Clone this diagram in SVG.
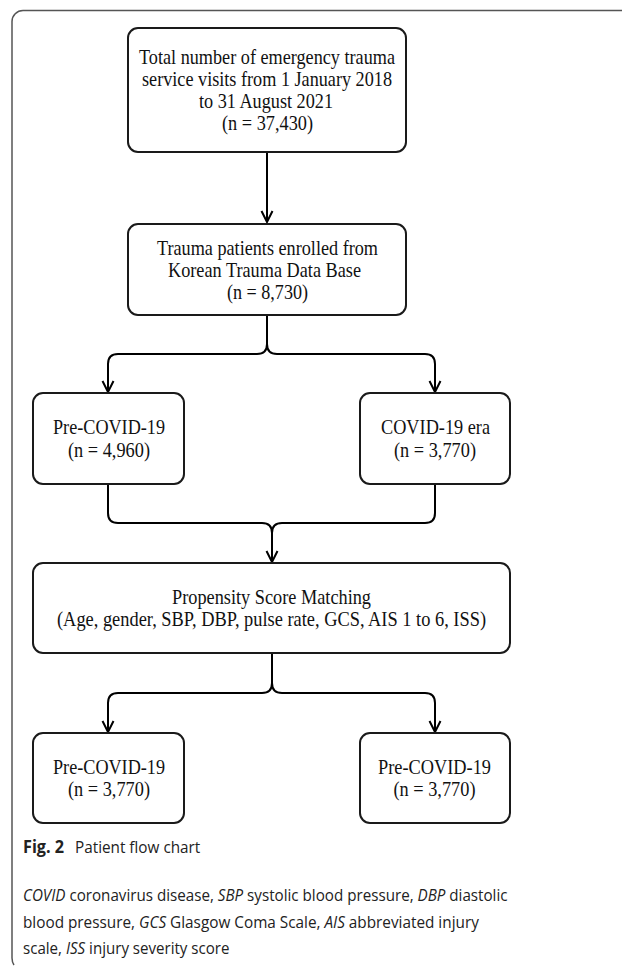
<svg xmlns="http://www.w3.org/2000/svg" width="622" height="966" viewBox="0 0 622 966">
<style>
.box{fill:#fff;stroke:#1a1a1a;stroke-width:2}
.t{font-family:"Liberation Serif",serif;font-size:21px;fill:#111;text-anchor:middle}
.c{fill:none;stroke:#000;stroke-width:2}
.cap{font-family:"Open Sans","Noto Sans",sans-serif;font-size:16.5px;fill:#222}
</style>
<defs>
<marker id="ah" viewBox="0 0 14 14" refX="12" refY="7" markerWidth="14" markerHeight="14" markerUnits="userSpaceOnUse" orient="auto">
<path d="M1,1.5 L12,7 L1,12.5" fill="none" stroke="#000" stroke-width="2"/>
</marker>
</defs>
<rect width="622" height="966" fill="#fff"/>
<path d="M622,10.5 H23 A11 11 0 0 0 12,21.5 V958 Q12,962 14,965" fill="none" stroke="#555" stroke-width="1.5"/>
<g id="connectors">
<path class="c" d="M267,152 V222" marker-end="url(#ah)"/>
<path class="c" d="M267,315 V344 Q267,354 257,354 H118 Q108,354 108,364 V392" marker-end="url(#ah)"/>
<path class="c" d="M267,344 Q267,354 277,354 H425 Q435,354 435,364 V392" marker-end="url(#ah)"/>
<path class="c" d="M108,484 V513 Q108,523 118,523 H262 Q272,523 272,533 V562" marker-end="url(#ah)"/>
<path class="c" d="M435,484 V513 Q435,523 425,523 H282 Q272,523 272,533"/>
<path class="c" d="M272,653 V683 Q272,693 262,693 H118 Q108,693 108,703 V732" marker-end="url(#ah)"/>
<path class="c" d="M272,683 Q272,693 282,693 H425 Q435,693 435,703 V732" marker-end="url(#ah)"/>
</g>
<g id="n1"><rect class="box" x="128" y="28" width="278" height="124" rx="10"/>
<text class="t" x="267" y="64" textLength="256" lengthAdjust="spacingAndGlyphs">Total number of emergency trauma</text>
<text class="t" x="267" y="86" textLength="250" lengthAdjust="spacingAndGlyphs">service visits from 1 January 2018</text>
<text class="t" x="266" y="108" textLength="134" lengthAdjust="spacingAndGlyphs">to 31 August 2021</text>
<text class="t" x="267.5" y="130" textLength="91" lengthAdjust="spacingAndGlyphs">(n = 37,430)</text></g>
<g id="n2"><rect class="box" x="128" y="224" width="278" height="91" rx="10"/>
<text class="t" x="267.5" y="255" textLength="221" lengthAdjust="spacingAndGlyphs">Trauma patients enrolled from</text>
<text class="t" x="264.5" y="277" textLength="193" lengthAdjust="spacingAndGlyphs">Korean Trauma Data Base</text>
<text class="t" x="267.5" y="299" textLength="81" lengthAdjust="spacingAndGlyphs">(n = 8,730)</text></g>
<g id="n3"><rect class="box" x="33" y="393" width="151" height="91" rx="10"/>
<text class="t" x="109" y="434" textLength="112" lengthAdjust="spacingAndGlyphs">Pre-COVID-19</text>
<text class="t" x="109" y="457" textLength="82" lengthAdjust="spacingAndGlyphs">(n = 4,960)</text></g>
<g id="n4"><rect class="box" x="360" y="393" width="150" height="91" rx="10"/>
<text class="t" x="435.5" y="434" textLength="109" lengthAdjust="spacingAndGlyphs">COVID-19 era</text>
<text class="t" x="435" y="457" textLength="82" lengthAdjust="spacingAndGlyphs">(n = 3,770)</text></g>
<g id="n5"><rect class="box" x="33" y="563" width="477" height="90" rx="10"/>
<text class="t" x="271.5" y="604" textLength="199" lengthAdjust="spacingAndGlyphs">Propensity Score Matching</text>
<text class="t" x="271.5" y="626" textLength="429" lengthAdjust="spacingAndGlyphs">(Age, gender, SBP, DBP, pulse rate, GCS, AIS 1 to 6, ISS)</text></g>
<g id="n6"><rect class="box" x="33" y="733" width="151" height="90" rx="10"/>
<text class="t" x="109" y="774" textLength="112" lengthAdjust="spacingAndGlyphs">Pre-COVID-19</text>
<text class="t" x="109" y="796" textLength="82" lengthAdjust="spacingAndGlyphs">(n = 3,770)</text></g>
<g id="n7"><rect class="box" x="360" y="733" width="150" height="90" rx="10"/>
<text class="t" x="434.5" y="774" textLength="113" lengthAdjust="spacingAndGlyphs">Pre-COVID-19</text>
<text class="t" x="434.5" y="796" textLength="82" lengthAdjust="spacingAndGlyphs">(n = 3,770)</text></g>
<g id="caption">
<text class="cap" transform="translate(23,853) scale(0.955,1)" font-weight="bold" fill="#111" style="font-size:17px">Fig. 2</text>
<text class="cap" transform="translate(75,853) scale(0.9,1)" style="font-size:17px">Patient flow chart</text>
<text class="cap" transform="translate(23,901) scale(0.92,1)"><tspan font-style="italic">COVID</tspan> coronavirus disease, <tspan font-style="italic">SBP</tspan> systolic blood pressure, <tspan font-style="italic">DBP</tspan> diastolic</text>
<text class="cap" transform="translate(23,928) scale(0.929,1)">blood pressure, <tspan font-style="italic">GCS</tspan> Glasgow Coma Scale, <tspan font-style="italic">AIS</tspan> abbreviated injury</text>
<text class="cap" transform="translate(23,954) scale(0.915,1)">scale, <tspan font-style="italic">ISS</tspan> injury severity score</text>
</g>
</svg>
